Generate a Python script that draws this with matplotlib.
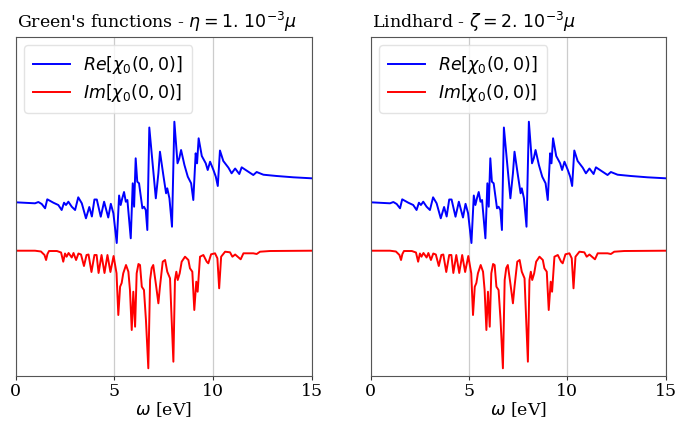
import numpy as np
import matplotlib
matplotlib.use("Agg")
import matplotlib.pyplot as plt

# omega grid (eV) and Re[chi0] (arbitrary units)
omega_re = [0.00, 0.98, 1.15, 1.32, 1.49, 1.60, 1.91, 2.16, 2.33, 2.45, 2.55, 2.67,
            2.84, 3.01, 3.17, 3.35, 3.56, 3.73, 3.86, 3.99, 4.11, 4.31, 4.48, 4.69,
            4.82, 4.95, 5.12, 5.24, 5.32, 5.40, 5.49, 5.58, 5.66, 5.83, 5.93, 6.00,
            6.08, 6.16, 6.25, 6.42, 6.50, 6.59, 6.67, 6.77, 6.89, 7.10, 7.23, 7.31,
            7.48, 7.62, 7.68, 7.79, 7.92, 8.04, 8.20, 8.29, 8.38, 8.55, 8.72, 8.89,
            9.00, 9.12, 9.19, 9.27, 9.43, 9.63, 9.73, 9.85, 10.02, 10.14, 10.24,
            10.35, 10.52, 10.78, 10.94, 11.12, 11.33, 11.45, 11.71, 12.04, 12.21,
            12.55, 13.23, 14.07, 15.00]
re_chi = [4.84, 4.74, 4.87, 4.67, 4.24, 5.14, 4.80, 4.57, 4.07, 4.80, 4.57, 4.90,
          4.40, 4.07, 5.34, 4.74, 3.24, 4.37, 3.42, 5.12, 5.12, 3.40, 4.90, 3.32,
          4.69, 3.74, 0.77, 5.52, 4.57, 5.24, 5.87, 4.90, 5.07, 1.24, 6.74, 4.40,
          9.24, 6.90, 6.74, 4.24, 4.40, 4.07, 2.07, 12.32, 9.74, 5.24, 7.74, 9.90,
          7.57, 5.74, 6.24, 5.24, 2.40, 12.90, 8.74, 9.24, 10.07, 8.57, 7.40, 6.74,
          5.07, 9.74, 8.74, 11.24, 9.47, 8.74, 8.07, 8.90, 8.07, 7.40, 6.47,
          10.02, 8.97, 8.30, 7.74, 8.22, 7.67, 8.34, 8.00, 7.57, 7.87,
          7.60, 7.47, 7.34, 7.24]

# Im[chi0]
omega_im = [0.00, 0.98, 1.28, 1.46, 1.54, 1.61, 1.69, 2.09, 2.30, 2.41, 2.50, 2.58,
            2.68, 2.84, 2.93, 3.06, 3.18, 3.31, 3.46, 3.59, 3.69, 3.84, 3.99, 4.10,
            4.20, 4.35, 4.50, 4.65, 4.80, 4.96, 5.11, 5.20, 5.29, 5.37, 5.45, 5.59,
            5.71, 5.79, 5.88, 5.96, 6.05, 6.13, 6.22, 6.30, 6.39, 6.50, 6.60, 6.72,
            6.81, 6.89, 6.97, 7.11, 7.23, 7.31, 7.45, 7.57, 7.68, 7.82, 7.91, 7.99,
            8.07, 8.14, 8.21, 8.31, 8.41, 8.58, 8.75, 8.83, 8.95, 9.05, 9.15, 9.22,
            9.34, 9.51, 9.68, 9.76, 9.90, 10.10, 10.22, 10.31, 10.41, 10.61, 10.86,
            10.98, 11.12, 11.40, 11.54, 12.04, 12.21, 12.38, 12.89, 15.00]
im_chi = [0.00, 0.00, -0.08, -0.43, -0.93, -0.33, -0.03, -0.03, -0.18, -1.10, -0.28, -0.60,
          -0.23, -0.68, -0.23, -0.93, -0.28, -0.38, -1.53, -0.43, -0.38, -2.13, -0.43, -0.43,
          -2.23, -0.43, -2.23, -0.43, -2.13, -0.53, -2.26, -6.43, -3.60, -3.23, -2.26, -1.43,
          -2.10, -3.93, -7.93, -4.10, -7.60, -2.26, -1.33, -1.43, -3.60, -3.93, -6.93, -11.76,
          -2.93, -1.73, -1.43, -3.43, -5.26, -3.60, -1.10, -0.93, -2.10, -2.76, -7.26, -11.10,
          -2.93, -2.10, -2.93, -2.26, -1.10, -0.60, -0.93, -1.76, -2.10, -5.93, -3.10, -4.10,
          -0.60, -0.43, -1.10, -1.26, -0.36, -0.26, -0.76, -3.76, -0.60, -0.10, -0.16,
          -0.60, -0.38, -0.86, -0.26, -0.26, -0.33, -0.10, -0.03, 0.00]

titles = [r"Green's functions - $\eta = 1.\,10^{-3}\mu$",
          r"Lindhard - $\zeta = 2.\,10^{-3}\mu$"]

plt.rcParams['font.family'] = 'DejaVu Serif'
plt.rcParams['mathtext.fontset'] = 'dejavusans'

fig = plt.figure(figsize=(6.79, 4.22), dpi=100)
ax1 = fig.add_axes([0.0231, 0.109, 0.436, 0.804])
ax2 = fig.add_axes([0.546, 0.109, 0.4345, 0.804])

for ax, title in zip([ax1, ax2], titles):
    ax.plot(omega_re, re_chi, color='blue', lw=1.4, label=r'$Re[\chi_0(0,0)]$')
    ax.plot(omega_im, im_chi, color='red', lw=1.4, label=r'$Im[\chi_0(0,0)]$')
    ax.set_xlim(0, 15)
    ax.set_ylim(-12.53, 21.4)
    ax.set_xticks([0, 5, 10, 15])
    ax.set_yticks([])
    ax.grid(axis='x', color='#cccccc', lw=0.9)
    ax.set_axisbelow(True)
    ax.tick_params(axis='x', labelsize=12.5, length=3, pad=2,
                   colors='#333333', labelcolor='black')
    for sp in ax.spines.values():
        sp.set_color('#555555')
    ax.set_xlabel(r'$\omega$ [eV]', fontsize=12.5, labelpad=0)
    ax.set_title(title, fontsize=12.5, pad=6, loc='left', x=0.005)
    leg = ax.legend(loc='upper left', fontsize=12.5, handlelength=2.1, borderpad=0.5,
                    labelspacing=0.35, handletextpad=0.8)
    leg.get_frame().set_edgecolor('#dddddd')

fig.savefig('out.png', dpi=100)
